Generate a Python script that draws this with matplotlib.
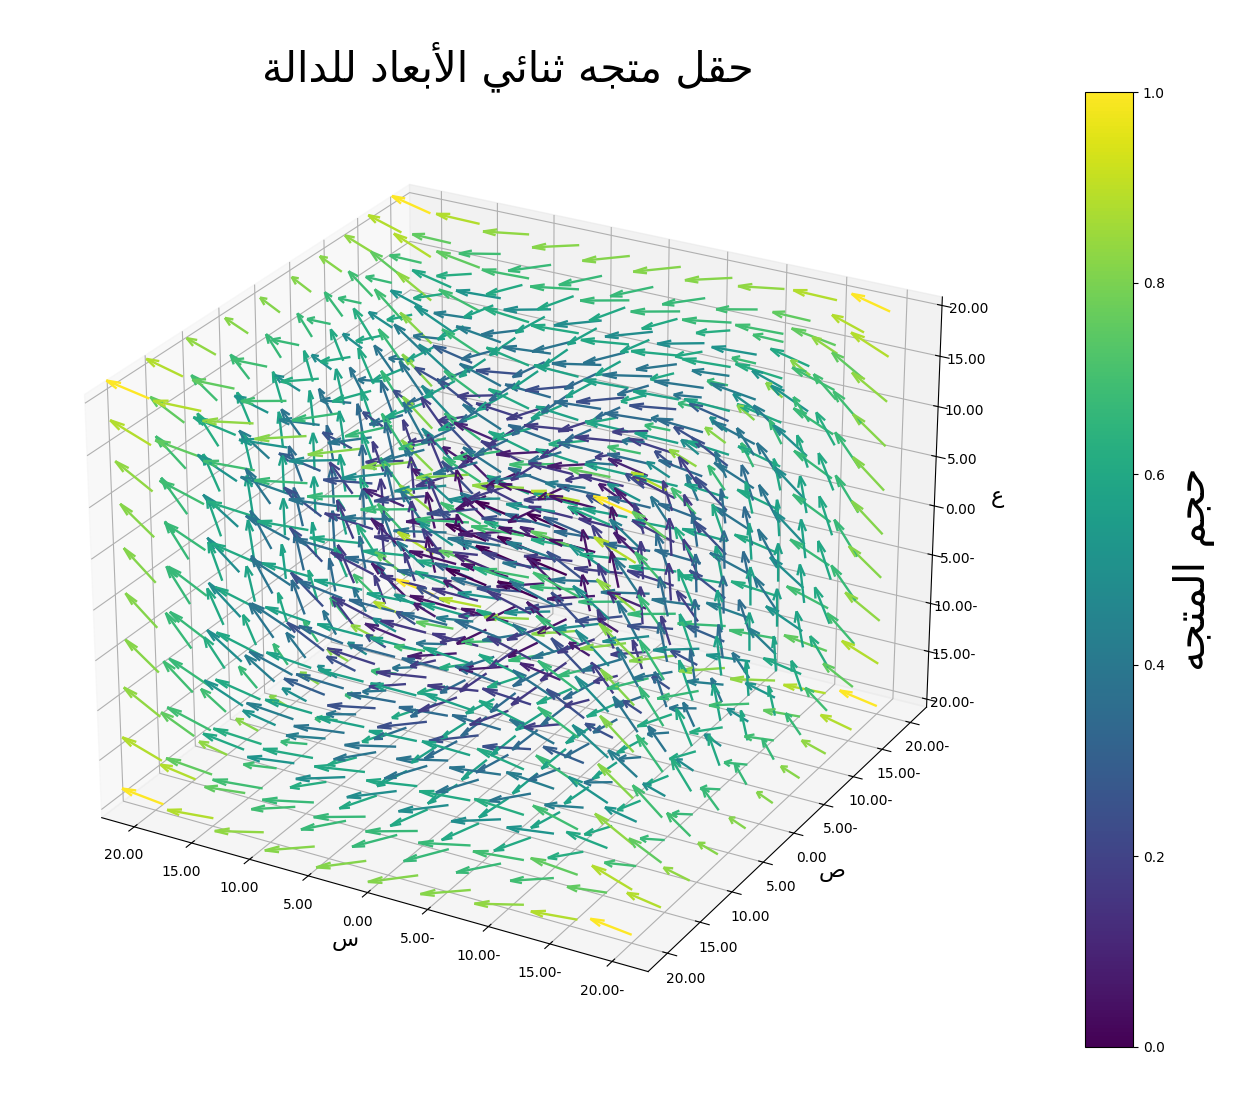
"""3D vector field with Arabic labels, coloured by vector magnitude."""

import matplotlib
matplotlib.use("Agg")
import matplotlib.pyplot as plt
import numpy as np

# node positions along each axis
grid_x = [-20.0, -15.63, -11.27, -6.9, -2.53, 1.83, 6.2, 10.57, 14.93, 19.3]
grid_y = [-20.0, -15.56, -11.11, -6.67, -2.22, 2.22, 6.67, 11.11, 15.56, 20.0]
grid_z = [-20.0, -15.56, -11.11, -6.67, -2.22, 2.22, 6.67, 11.11, 15.56, 20.0]

# component strength per grid row: u follows y, v follows z, w follows x
u_by_y = [400, 242, 123, 44, 5, 5, 44, 123, 242, 400]
v_by_z = [400, 242, 123, 44, 5, 5, 44, 123, 242, 400]
w_by_x = [400, 242, 123, 44, 5, 5, 44, 123, 242, 400]

tick_values = [-20, -15, -10, -5, 0, 5, 10, 15, 20]
tick_labels = ["20.00-", "15.00-", "10.00-", "5.00-", "0.00", "5.00", "10.00", "15.00", "20.00"]
cbar_ticks = [0.0, 0.2, 0.4, 0.6, 0.8, 1.0]

# Arabic in presentation forms, logical order; reversed for drawing since matplotlib has no bidi
TITLE = ("\uFEA3\uFED8\uFEDE \uFEE3\uFE98\uFEA0\uFEEA \uFE9B\uFEE8\uFE8E\uFE8B\uFEF2 "
         "\uFE8D\uFEF7\uFE91\uFECC\uFE8E\uFEA9 \uFEDF\uFEE0\uFEAA\uFE8D\uFEDF\uFE94")[::-1]
CBAR_LABEL = "\uFEA3\uFEA0\uFEE2 \uFE8D\uFEDF\uFEE4\uFE98\uFEA0\uFEEA"[::-1]
X_LABEL, Y_LABEL, Z_LABEL = "\uFEB1", "\uFEB9", "\uFEC9"

X, Y, Z = np.meshgrid(grid_x, grid_y, grid_z)
iy, ix, iz = np.indices(X.shape)
U = np.array(u_by_y, dtype=float)[iy]
V = np.array(v_by_z, dtype=float)[iz]
W = np.array(w_by_x, dtype=float)[ix]

mag = np.sqrt(U**2 + V**2 + W**2).ravel()
c = (mag - mag.min()) / (mag.max() - mag.min())

fig = plt.figure(figsize=(12.42, 10.98), dpi=100)
ax = fig.add_axes([29.5 / 1242, 0.0437, 960 / 1242, 960 / 1098], projection="3d")
ax.quiver(X.ravel(), Y.ravel(), Z.ravel(), U.ravel(), V.ravel(), W.ravel(),
          colors=plt.cm.viridis(c), length=3.75, normalize=True, linewidth=1.7)
ax.view_init(elev=26, azim=-60.8)

ax.set_xticks(tick_values)
ax.set_xticklabels(tick_labels)
ax.set_yticks(tick_values)
ax.set_yticklabels(tick_labels)
ax.set_zticks(tick_values)
ax.set_zticklabels(tick_labels)
# the limits stay where the full -20..20 span would put them
x_lo, x_hi = ax.get_xlim()
ax.set_xlim(x_hi + 0.7, x_lo)
ax.invert_yaxis()
ax.set_xlabel(X_LABEL, fontsize=16, labelpad=4)
ax.set_ylabel(Y_LABEL, fontsize=16, labelpad=4)
ax.set_zlabel(Z_LABEL, fontsize=16, labelpad=7)
fig.text(508 / 1242, 1 - 67 / 1098, TITLE, fontsize=30, ha="center", va="center")

cax = fig.add_axes([1085 / 1242, 1 - 1047 / 1098, 48 / 1242, 955 / 1098])
sm = plt.cm.ScalarMappable(cmap="viridis", norm=plt.Normalize(0, 1))
cb = fig.colorbar(sm, cax=cax, ticks=cbar_ticks)
cb.set_label(CBAR_LABEL, fontsize=30, labelpad=6)

fig.savefig("out.png", dpi=100)
